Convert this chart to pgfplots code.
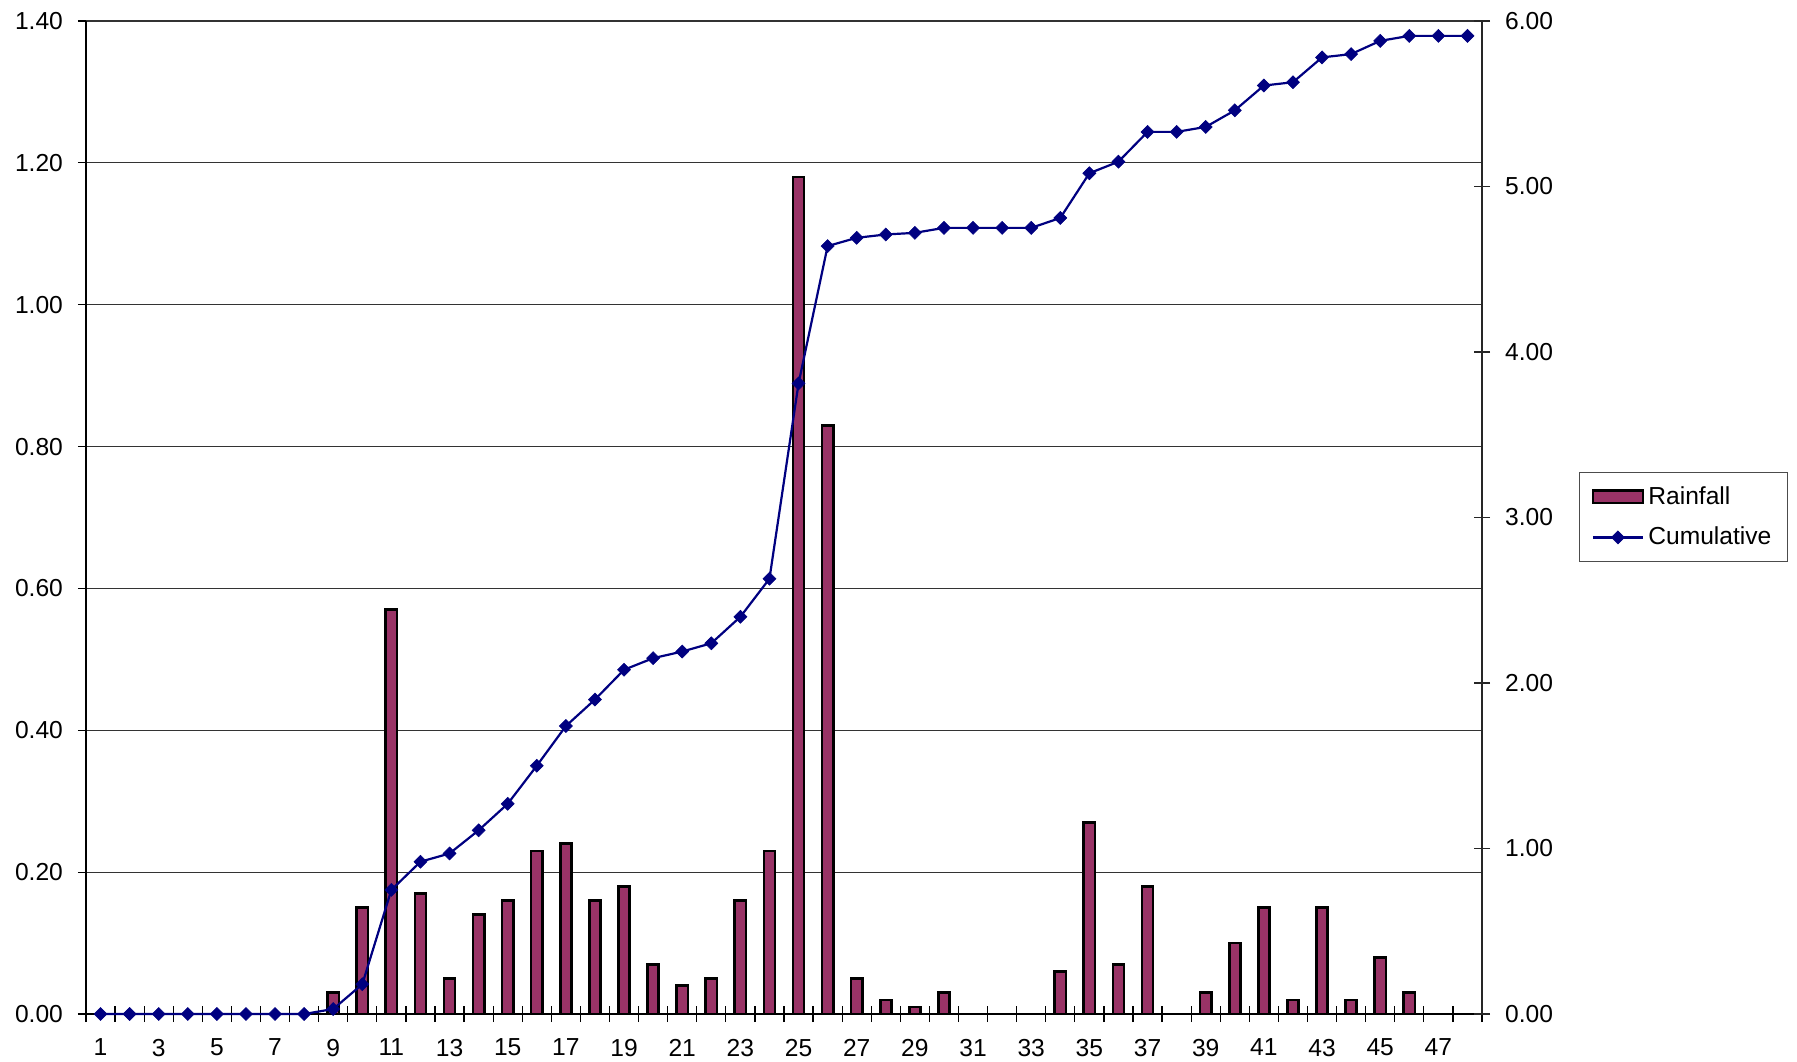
\documentclass[border=0pt]{standalone}
\usepackage{pgfplots}
\pgfplotsset{compat=1.18}
\usepackage{fontspec}
\setmainfont{Liberation Sans}
\definecolor{plum}{RGB}{153,51,102}
\definecolor{navyline}{RGB}{0,0,128}
\pgfplotsset{cumlegend/.style={legend image code/.code={\draw[mark repeat=2,mark phase=2,##1] plot coordinates {(0pt,0pt) (12.5pt,0pt) (25pt,0pt)};}}}
\begin{document}
\begin{tikzpicture}[font=\fontsize{12.3}{14}\selectfont]
\begin{axis}[
  name=main,
  at={(0,0)}, anchor=south west,
  scale only axis, width=698pt, height=496.5pt,
  xmin=0.5, xmax=48.5, ymin=0, ymax=1.4,
  axis x line*=bottom, axis y line*=left,
  axis line style={black, line width=0.7pt},
  xtick={1,3,...,47},
  minor xtick={0.5,1.5,...,48.5},
  major x tick style={draw=none},
  minor tick length=8pt,
  major tick length=4pt,
  xtick align=center,
  ytick align=outside,
  tick style={black, line width=0.6pt},
  ytick={0,0.2,...,1.41},
  ymajorgrids,
  grid style={black!80, line width=0.6pt},
  /pgf/number format/assume math mode=true,
  yticklabel style={/pgf/number format/fixed, /pgf/number format/fixed zerofill, /pgf/number format/precision=2, xshift=-4pt},
  xticklabel style={yshift=-7pt},
]
\addplot[ybar, bar width=5.6pt, fill=plum, draw=black, line width=1.3pt] coordinates {
(9,0.03) (10,0.15) (11,0.57) (12,0.17) (13,0.05) (14,0.14) (15,0.16) (16,0.23)
(17,0.24) (18,0.16) (19,0.18) (20,0.07) (21,0.04) (22,0.05) (23,0.16) (24,0.23)
(25,1.18) (26,0.83) (27,0.05) (28,0.02) (29,0.01) (30,0.03)
(34,0.06) (35,0.27) (36,0.07) (37,0.18) (39,0.03) (40,0.10) (41,0.15) (42,0.02)
(43,0.15) (44,0.02) (45,0.08) (46,0.03)
};
\end{axis}
\begin{axis}[
  at={(0,0)}, anchor=south west,
  scale only axis, width=698pt, height=496.5pt,
  xmin=0.5, xmax=48.5, ymin=0, ymax=6,
  axis x line=none, axis y line*=right,
  axis line style={black!85, line width=0.7pt},
  ytick={0,1,...,6},
  major tick length=8pt,
  ytick align=center,
  tick style={black!85, line width=0.6pt},
  /pgf/number format/assume math mode=true,
  yticklabel style={/pgf/number format/fixed, /pgf/number format/fixed zerofill, /pgf/number format/precision=2, xshift=4pt},
  clip=false,
  legend style={at={(1.0695,0.5005)}, anchor=west, draw=black!70, line width=0.5pt,
    fill=white, inner xsep=6pt, inner ysep=5pt, row sep=6pt,
    font=\fontsize{12.3}{14}\selectfont,
    nodes={inner sep=2pt}},
  legend cell align=left,
]
\addlegendimage{legend image code/.code={\draw[fill=plum, draw=black, line width=1.4pt] (0pt,-3.2pt) rectangle (25pt,3.2pt);}}
\addlegendentry{Rainfall}
\addplot[navyline, line width=1.1pt, mark=square*, mark size=2.3pt,
  mark options={rotate=45, fill=navyline, draw=navyline, line width=0.3pt},
  cumlegend]
coordinates {
(1,0) (2,0) (3,0) (4,0) (5,0) (6,0) (7,0) (8,0)
(9,0.03) (10,0.18) (11,0.75) (12,0.92) (13,0.97) (14,1.11) (15,1.27) (16,1.50)
(17,1.74) (18,1.90) (19,2.08) (20,2.15) (21,2.19) (22,2.24) (23,2.40) (24,2.63)
(25,3.81) (26,4.64) (27,4.69) (28,4.71) (29,4.72) (30,4.75) (31,4.75) (32,4.75)
(33,4.75) (34,4.81) (35,5.08) (36,5.15) (37,5.33) (38,5.33) (39,5.36) (40,5.46)
(41,5.61) (42,5.63) (43,5.78) (44,5.80) (45,5.88) (46,5.91) (47,5.91) (48,5.91)
};
\addlegendentry{Cumulative}
\end{axis}
\pgfresetboundingbox
\path[use as bounding box] (-43pt,-23.5pt) rectangle (855.5pt,507pt);
\end{tikzpicture}
\end{document}
